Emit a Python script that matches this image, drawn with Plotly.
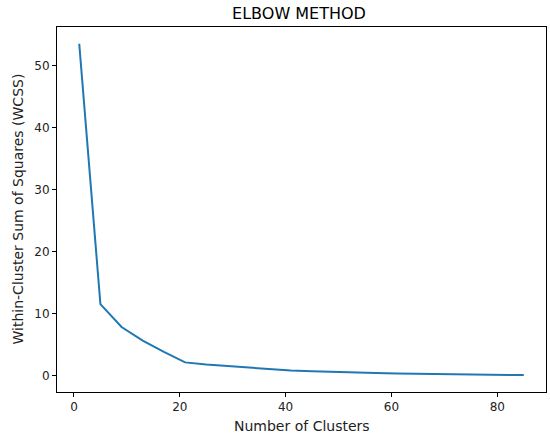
import plotly.graph_objects as go

clusters = [1, 5, 9, 13, 17, 21, 25, 29, 33, 37, 41, 45, 49, 53, 57, 61, 65, 69, 73, 77, 81, 85]
wcss = [53.5, 11.5, 7.8, 5.6, 3.8, 2.1, 1.75, 1.5, 1.2, 0.95, 0.78, 0.65, 0.53, 0.43,
        0.37, 0.31, 0.26, 0.21, 0.16, 0.12, 0.08, 0.05]
x_ticks = [0, 20, 40, 60, 80]
y_ticks = [0, 10, 20, 30, 40, 50]

fig = go.Figure()
fig.add_trace(go.Scatter(x=clusters, y=wcss, mode="lines",
                         line=dict(color="#1f77b4", width=2)))

axis_common = dict(showline=True, linecolor="black", linewidth=1, mirror=True,
                   ticks="outside", ticklen=4, tickcolor="black", showgrid=False,
                   zeroline=False, automargin=False, tickfont=dict(size=12, color="#222"))
L, R, T, B = 57, 4, 27, 45
fig.update_layout(
    width=550, height=437,
    margin=dict(l=L, r=R, t=T, b=B, autoexpand=False),
    paper_bgcolor="white", plot_bgcolor="white",
    font=dict(family="DejaVu Sans", color="#222"),
    showlegend=False,
    title=dict(text="ELBOW METHOD", x=299 / 550, xanchor="center",
               y=1 - 13 / 437, yanchor="middle", font=dict(size=16, color="black")),
    xaxis=dict(axis_common, range=[-3.2, 89.2], tickvals=x_ticks),
    yaxis=dict(axis_common, range=[-2.68, 56.2], tickvals=y_ticks),
    annotations=[
        dict(text="Number of Clusters", xref="paper", yref="paper", x=0.5,
             y=-34 / (437 - T - B), xanchor="center", yanchor="middle",
             showarrow=False, font=dict(size=14, color="#222")),
        dict(text="Within-Cluster Sum of Squares (WCSS)", xref="paper", yref="paper",
             x=-40 / (550 - L - R), y=0.5, xanchor="center", yanchor="middle",
             textangle=-90, showarrow=False, font=dict(size=14, color="#222")),
    ],
)
fig.write_html("out.html", config={"displayModeBar": False},
               post_script="document.body.style.margin='0';document.body.style.overflow='hidden';")
